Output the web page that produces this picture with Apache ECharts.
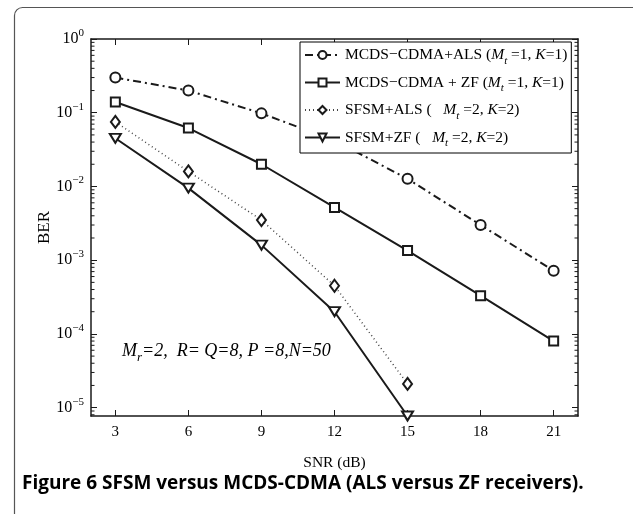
<!DOCTYPE html>
<html><head><meta charset="utf-8">
<script src="https://cdn.jsdelivr.net/npm/echarts@6/dist/echarts.min.js"></script>
<style>html,body{margin:0;padding:0;background:#fff}#c{width:633px;height:514px}</style>
</head><body><div id="c"></div>
<script>
// ---- data ----
const snrAll = [3, 6, 9, 12, 15, 18, 21];
const snrSfsm = [3, 6, 9, 12, 15];
const berMcdsAls = [0.30, 0.20, 0.098, 0.042, 0.0127, 0.0030, 0.00072];
const berMcdsZf = [0.14, 0.062, 0.020, 0.0052, 0.00135, 0.00033, 0.00008];
const berSfsmAls = [0.075, 0.016, 0.0035, 0.00045, 0.000021];
const berSfsmZf = [0.045, 0.0095, 0.0016, 0.0002, 0.0000077];
const xTickValues = [3, 6, 9, 12, 15, 18, 21];
const yTickValues = [1e-5, 1e-4, 1e-3, 1e-2, 1e-1, 1];
const seriesNames = ['mcdsAls', 'mcdsZf', 'sfsmAls', 'sfsmZf'];
const legendTexts = {
  mcdsAls: 'MCDS\u2212CDMA+ALS ({i|M}{sub|t} =1, {i|K}=1)',
  mcdsZf: 'MCDS\u2212CDMA + ZF ({i|M}{sub|t} =1, {i|K}=1)',
  sfsmAls: 'SFSM+ALS (   {i|M}{sub|t} =2, {i|K}=2)',
  sfsmZf: 'SFSM+ZF (   {i|M}{sub|t} =2, {i|K}=2)'
};
const xRange = [2, 22];
const yRange = [7.7e-6, 1];

const ink = '#1a1a1a';
const serif = 'Liberation Serif';
const pair = (xs, ys) => xs.map((x, i) => [x, ys[i]]);

// minor log ticks (axis decoration)
const minorTicks = [];
for (let e = -6; e < 0; e++) for (let m = 2; m <= 9; m++) {
  const v = m * Math.pow(10, e);
  if (v > yRange[0] && v < yRange[1]) minorTicks.push(v);
}

const chart = echarts.init(document.getElementById('c'), null, {renderer: 'canvas'});
const richLegend = {
  i: {fontStyle: 'italic', fontFamily: serif, fontSize: 15.5, color: '#000'},
  sub: {fontStyle: 'italic', fontFamily: serif, fontSize: 11, color: '#000', padding: [12, 0, 0, 0]}
};
const yLabelFmt = v => {
  const e = Math.round(Math.log10(v));
  return '{b|10}{s|' + (e < 0 ? '\u2212' + (-e) : e) + '}';
};
const lineBase = {type: 'line', symbolKeepAspect: true, z: 3, clip: false};

chart.setOption({
  animation: false,
  backgroundColor: '#fff',
  grid: {left: 91, right: 55, top: 39, bottom: 98, containLabel: false},
  xAxis: [{
    type: 'value', min: xRange[0], max: xRange[1], position: 'bottom',
    name: 'SNR (dB)', nameLocation: 'middle', nameGap: 39, nameMoveOverlap: false,
    nameTextStyle: {fontFamily: serif, fontSize: 15.5, color: '#000'},
    axisLine: {show: true, onZero: false, lineStyle: {color: ink, width: 1.5}},
    axisTick: {show: true, inside: true, length: 6, customValues: xTickValues, lineStyle: {color: ink}},
    axisLabel: {customValues: xTickValues, margin: 9, fontFamily: serif, fontSize: 15, color: '#000'},
    splitLine: {show: false}
  }, {
    type: 'value', min: xRange[0], max: xRange[1], position: 'top',
    axisLine: {show: true, onZero: false, lineStyle: {color: ink, width: 1.5}},
    axisTick: {show: true, inside: true, length: 6, customValues: xTickValues, lineStyle: {color: ink}},
    axisLabel: {show: false}, splitLine: {show: false}
  }],
  yAxis: [{
    type: 'log', logBase: 10, min: yRange[0], max: yRange[1], position: 'left',
    name: 'BER', nameLocation: 'middle', nameGap: 38, nameMoveOverlap: false,
    nameTextStyle: {fontFamily: serif, fontSize: 17, color: '#000'},
    axisLine: {show: true, onZero: false, lineStyle: {color: ink, width: 1.5}},
    axisTick: {show: true, inside: true, length: 6, customValues: yTickValues, lineStyle: {color: ink}},
    axisLabel: {customValues: yTickValues, margin: 7, formatter: yLabelFmt,
      rich: {b: {fontFamily: serif, fontSize: 16, color: '#000'},
             s: {fontFamily: serif, fontSize: 11, color: '#000', padding: [0, 0, 12, 0]}}},
    splitLine: {show: false}
  }, {
    type: 'log', logBase: 10, min: yRange[0], max: yRange[1], position: 'right',
    axisLine: {show: true, onZero: false, lineStyle: {color: ink, width: 1.5}},
    axisTick: {show: true, inside: true, length: 6, customValues: yTickValues, lineStyle: {color: ink}},
    axisLabel: {show: false}, splitLine: {show: false}
  }],
  legend: {
    orient: 'vertical', left: 300, top: 42, padding: [5, 4, 4, 4],
    backgroundColor: '#fff', borderColor: '#000', borderWidth: 1,
    itemWidth: 35, itemHeight: 10, itemGap: 8, z: 10,
    data: seriesNames,
    formatter: n => legendTexts[n],
    textStyle: {fontFamily: serif, fontSize: 15.5, color: '#000', rich: richLegend}
  },
  series: [
    Object.assign({}, lineBase, {
      name: 'mcdsAls', data: pair(snrAll, berMcdsAls),
      symbol: 'emptyCircle', symbolSize: 10,
      lineStyle: {color: ink, width: 2, type: [8, 4, 2, 4]},
      itemStyle: {color: ink, borderColor: ink, borderWidth: 2.2}
    }),
    Object.assign({}, lineBase, {
      name: 'mcdsZf', data: pair(snrAll, berMcdsZf),
      symbol: 'emptyRect', symbolSize: 9,
      lineStyle: {color: ink, width: 2},
      itemStyle: {color: ink, borderColor: ink, borderWidth: 3.2}
    }),
    Object.assign({}, lineBase, {
      name: 'sfsmAls', data: pair(snrSfsm, berSfsmAls),
      symbol: 'emptyDiamond', symbolSize: [9, 12],
      lineStyle: {color: '#444', width: 1.5, type: [1, 3]},
      itemStyle: {color: ink, borderColor: ink, borderWidth: 2}
    }),
    Object.assign({}, lineBase, {
      name: 'sfsmZf', data: pair(snrSfsm, berSfsmZf),
      symbol: 'emptyTriangle', symbolRotate: 180, symbolSize: [11, 9],
      lineStyle: {color: ink, width: 2},
      itemStyle: {color: ink, borderColor: ink, borderWidth: 2.8}
    }),
    {
      type: 'custom', name: 'minorTicks', silent: true, z: 4, legendHoverLink: false,
      data: minorTicks.map(v => [v]),
      renderItem: (params, api) => {
        const v = api.value(0);
        const pl = api.coord([xRange[0], v]);
        const pr = api.coord([xRange[1], v]);
        return {type: 'group', children: [
          {type: 'line', shape: {x1: pl[0], y1: pl[1], x2: pl[0] + 3.5, y2: pl[1]}, style: {stroke: ink, lineWidth: 1}},
          {type: 'line', shape: {x1: pr[0], y1: pr[1], x2: pr[0] - 3.5, y2: pr[1]}, style: {stroke: ink, lineWidth: 1}}
        ]};
      }
    }
  ],
  graphic: [
    {type: 'rect', left: 12, top: 5, z: -10, silent: true,
     shape: {width: 700, height: 600, r: 8}, style: {fill: 'none', stroke: '#555', lineWidth: 1.2}},
    {type: 'text', left: 122, top: 342, silent: true,
     style: {text: 'M{sub|r}=2,  R= Q=8, P =8,N=50', fontFamily: serif, fontStyle: 'italic', fontSize: 18, fill: '#000',
       rich: {sub: {fontFamily: serif, fontStyle: 'italic', fontSize: 13, fill: '#000', padding: [13, 0, 0, 0]}}}},
    {type: 'text', left: 22, top: 474, silent: true,
     style: {text: 'Figure 6 SFSM versus MCDS-CDMA (ALS versus ZF receivers).', fontFamily: 'Open Sans', fontWeight: 'bold', fontSize: 19, fill: '#000'}}
  ]
});
</script>
</body></html>
